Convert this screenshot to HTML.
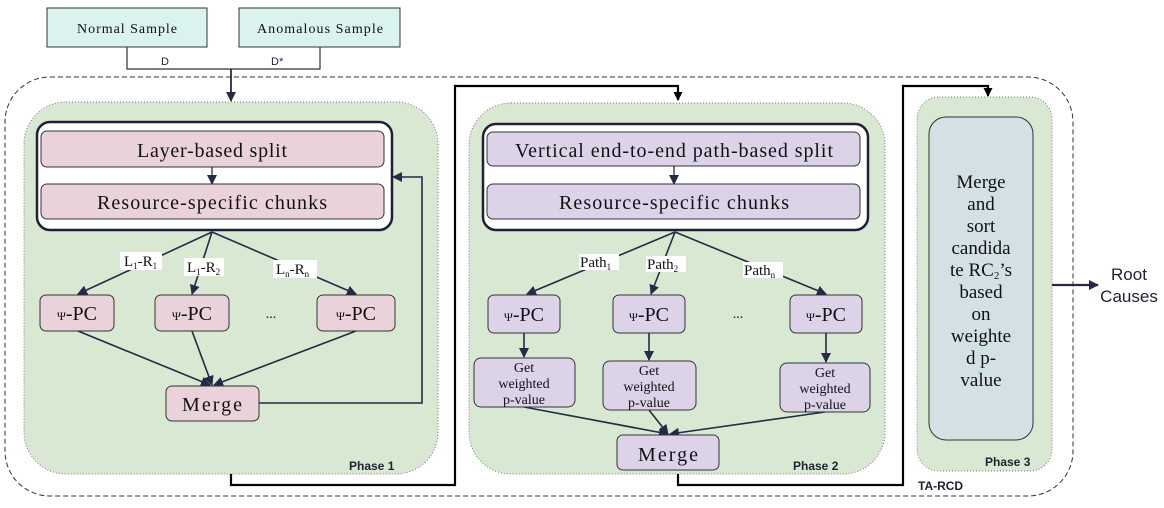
<!DOCTYPE html>
<html><head><meta charset="utf-8"><style>
html,body{margin:0;padding:0;background:#fff}
svg{display:block}
text{font-family:"Liberation Serif",serif;fill:#111}
.s{font-family:"Liberation Sans",sans-serif}
</style></head><body>
<svg width="1164" height="508" viewBox="0 0 1164 508" xmlns="http://www.w3.org/2000/svg">
<defs>
<marker id="a" markerWidth="10" markerHeight="10" refX="9" refY="5" orient="auto" markerUnits="userSpaceOnUse"><path d="M0,0 L10,5 L0,10 Z" fill="#252a45"/></marker>
<marker id="b" markerWidth="9" markerHeight="9" refX="8" refY="4.5" orient="auto" markerUnits="userSpaceOnUse"><path d="M0,0 L9,4.5 L0,9 Z" fill="#000"/></marker>
</defs>
<rect x="5" y="77" width="1068" height="419" rx="45" fill="none" stroke="#333" stroke-dasharray="5,3" stroke-width="1"/>
<rect x="47" y="8" width="160" height="39" fill="#daf3ee" stroke="#333"/>
<text x="127" y="33" text-anchor="middle" font-size="14" textLength="100">Normal Sample</text>
<rect x="239" y="8" width="161" height="39" fill="#daf3ee" stroke="#333"/>
<text x="320" y="33" text-anchor="middle" font-size="14" textLength="126">Anomalous Sample</text>
<path d="M127,47 V69 H320 V47" fill="none" stroke="#333" stroke-width="1.2"/>
<text x="161" y="65" class="s" font-size="11" style="fill:#224">D</text>
<text x="271" y="65" class="s" font-size="11" style="fill:#224">D*</text>
<path d="M231,69 V101" stroke="#252a45" stroke-width="1.8" marker-end="url(#a)"/>
<rect x="24" y="102" width="414" height="372" rx="42" fill="#d9e8d3" stroke="#777" stroke-dasharray="1,2"/>
<rect x="469" y="103" width="416" height="371" rx="42" fill="#d9e8d3" stroke="#777" stroke-dasharray="1,2"/>
<rect x="917" y="97" width="135" height="374" rx="22" fill="#d9e8d3" stroke="#777" stroke-dasharray="1,2"/>
<text x="349" y="470" class="s" font-size="12" font-weight="bold" style="fill:#223">Phase 1</text>
<text x="793" y="470" class="s" font-size="12" font-weight="bold" style="fill:#223">Phase 2</text>
<text x="985" y="466" class="s" font-size="12" font-weight="bold" style="fill:#223">Phase 3</text>
<text x="918" y="490" class="s" font-size="12" font-weight="bold" style="fill:#223">TA-RCD</text>
<rect x="37" y="122" width="355" height="108" rx="13" fill="#fff" stroke="#1e2136" stroke-width="2.5"/>
<rect x="41" y="131" width="343" height="36" rx="6" fill="#ead2da" stroke="#333"/>
<text x="212" y="157" text-anchor="middle" font-size="20" textLength="150">Layer-based split</text>
<path d="M212,167 V184" stroke="#252a45" stroke-width="1.3" marker-end="url(#a)"/>
<rect x="41" y="184" width="343" height="35" rx="6" fill="#ead2da" stroke="#333"/>
<text x="212" y="209" text-anchor="middle" font-size="20" textLength="230">Resource-specific chunks</text>
<g stroke="#252a45" stroke-width="1.6" fill="none">
<path d="M212,232 L78,294" marker-end="url(#a)"/>
<path d="M212,232 L192,294" marker-end="url(#a)"/>
<path d="M212,232 L356,294" marker-end="url(#a)"/>
<path d="M78,331 L210,385" marker-end="url(#a)"/>
<path d="M192,331 L212,385" marker-end="url(#a)"/>
<path d="M356,331 L214,385" marker-end="url(#a)"/>
<path d="M259,403 H422 V177 H393" marker-end="url(#a)"/>
</g>
<rect x="120" y="252" width="42" height="18" fill="#fff"/><text x="124" y="266" font-size="15">L<tspan font-size="9" dy="3">1</tspan><tspan dy="-3">-R</tspan><tspan font-size="9" dy="3">1</tspan></text>
<rect x="184" y="258" width="40" height="18" fill="#fff"/><text x="187" y="272" font-size="15">L<tspan font-size="9" dy="3">1</tspan><tspan dy="-3">-R</tspan><tspan font-size="9" dy="3">2</tspan></text>
<rect x="273" y="260" width="44" height="18" fill="#fff"/><text x="276" y="274" font-size="15">L<tspan font-size="9" dy="3">n</tspan><tspan dy="-3">-R</tspan><tspan font-size="9" dy="3">n</tspan></text>
<g fill="#ead2da" stroke="#333">
<rect x="40" y="295" width="74" height="36" rx="6"/>
<rect x="155" y="295" width="74" height="36" rx="6"/>
<rect x="317" y="295" width="78" height="36" rx="6"/>
<rect x="166" y="386" width="93" height="35" rx="6"/>
</g>
<g font-size="20" text-anchor="middle">
<text x="77" y="320"><tspan font-size="12">Ψ</tspan>-PC</text>
<text x="192" y="320"><tspan font-size="12">Ψ</tspan>-PC</text>
<text x="356" y="320"><tspan font-size="12">Ψ</tspan>-PC</text>
<text x="212" y="411" textLength="60">Merge</text>
</g>
<text x="271" y="318" font-size="14" text-anchor="middle">...</text>
<rect x="483" y="124" width="385" height="106" rx="13" fill="#fff" stroke="#1e2136" stroke-width="2.5"/>
<rect x="487" y="132" width="373" height="34" rx="6" fill="#dcd3e9" stroke="#333"/>
<text x="674" y="157" text-anchor="middle" font-size="20" textLength="318">Vertical end-to-end path-based split</text>
<path d="M674,166 V184" stroke="#252a45" stroke-width="1.3" marker-end="url(#a)"/>
<rect x="487" y="184" width="373" height="35" rx="6" fill="#dcd3e9" stroke="#333"/>
<text x="674" y="209" text-anchor="middle" font-size="20" textLength="230">Resource-specific chunks</text>
<g stroke="#252a45" stroke-width="1.6" fill="none">
<path d="M675,232 L527,294" marker-end="url(#a)"/>
<path d="M675,232 L651,294" marker-end="url(#a)"/>
<path d="M675,232 L826,294" marker-end="url(#a)"/>
<path d="M524,333 V357" marker-end="url(#a)"/>
<path d="M649,333 V360" marker-end="url(#a)"/>
<path d="M826,333 V362" marker-end="url(#a)"/>
<path d="M524,407 L668,434" marker-end="url(#a)"/>
<path d="M649,410 L668,434" marker-end="url(#a)"/>
<path d="M825,412 L670,434" marker-end="url(#a)"/>
</g>
<rect x="579" y="254" width="40" height="16" fill="#fff"/><text x="580" y="267" font-size="15">Path<tspan font-size="9" dy="3">1</tspan></text>
<rect x="646" y="256" width="40" height="16" fill="#fff"/><text x="647" y="269" font-size="15">Path<tspan font-size="9" dy="3">2</tspan></text>
<rect x="743" y="262" width="40" height="16" fill="#fff"/><text x="744" y="275" font-size="15">Path<tspan font-size="9" dy="3">n</tspan></text>
<g fill="#dcd3e9" stroke="#333">
<rect x="488" y="295" width="72" height="38" rx="6"/>
<rect x="613" y="295" width="72" height="38" rx="6"/>
<rect x="790" y="295" width="72" height="38" rx="6"/>
<rect x="474" y="358" width="101" height="49" rx="7"/>
<rect x="603" y="361" width="93" height="49" rx="7"/>
<rect x="780" y="363" width="90" height="49" rx="7"/>
<rect x="617" y="435" width="102" height="35" rx="6"/>
</g>
<g font-size="20" text-anchor="middle">
<text x="524" y="321"><tspan font-size="12">Ψ</tspan>-PC</text>
<text x="649" y="321"><tspan font-size="12">Ψ</tspan>-PC</text>
<text x="826" y="321"><tspan font-size="12">Ψ</tspan>-PC</text>
<text x="668" y="461" textLength="60">Merge</text>
</g>
<text x="738" y="318" font-size="14" text-anchor="middle">...</text>
<g font-size="14" text-anchor="middle">
<text x="524" y="372">Get</text><text x="524" y="388">weighted</text><text x="524" y="404">p-value</text>
<text x="649" y="375">Get</text><text x="649" y="391">weighted</text><text x="649" y="407">p-value</text>
<text x="825" y="377">Get</text><text x="825" y="393">weighted</text><text x="825" y="409">p-value</text>
</g>
<rect x="929" y="117" width="104" height="323" rx="17" fill="#d3e1e5" stroke="#333"/>
<g font-size="19" text-anchor="middle">
<text x="981" y="188">Merge</text><text x="981" y="210">and</text><text x="981" y="232">sort</text>
<text x="981" y="254">candida</text><text x="981" y="276">te RC<tspan font-size="11" dy="3">2</tspan><tspan dy="-3">’s</tspan></text>
<text x="981" y="298">based</text><text x="981" y="320">on</text><text x="981" y="342">weighte</text>
<text x="981" y="364">d p-</text><text x="981" y="386">value</text>
</g>
<path d="M1052,285 H1098" stroke="#252a45" stroke-width="2.2" marker-end="url(#a)"/>
<text x="1129" y="280" class="s" font-size="17" text-anchor="middle" style="fill:#223">Root</text>
<text x="1129" y="302" class="s" font-size="17" text-anchor="middle" style="fill:#223">Causes</text>
<g stroke="#000" stroke-width="2.2" fill="none">
<path d="M231,474 V485 H455 V86 H678 V100" marker-end="url(#b)"/>
<path d="M678,474 V485 H903 V86 H988 V96" marker-end="url(#b)"/>
</g>
</svg>
</body></html>
